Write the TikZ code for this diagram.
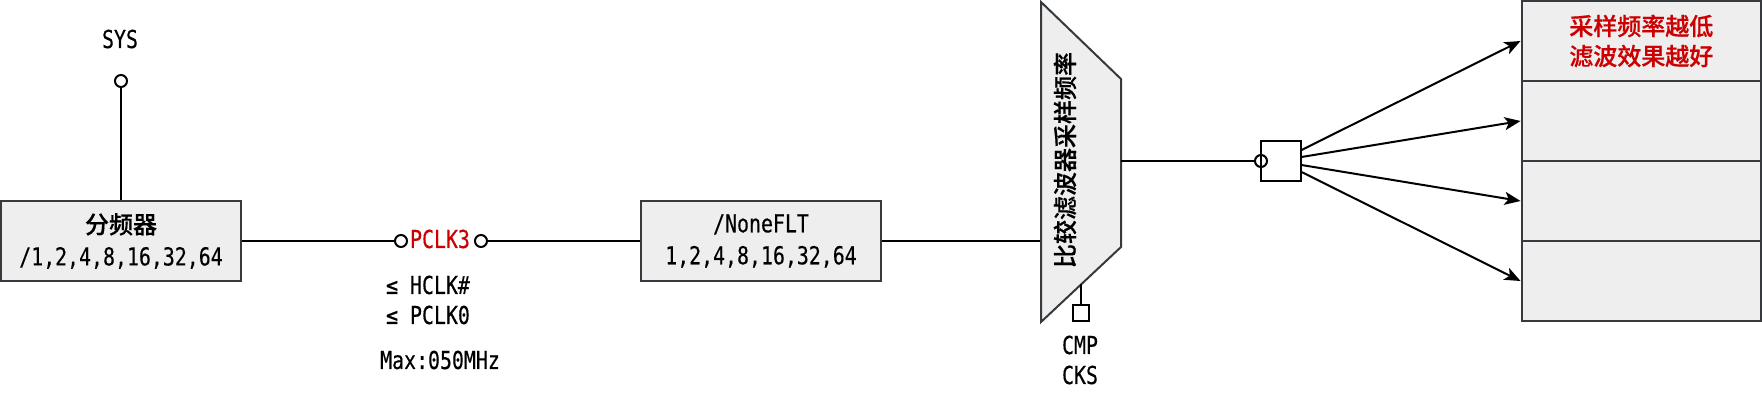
\documentclass[tikz,border=0pt]{standalone}
\usepackage{fontspec}
\usetikzlibrary{arrows.meta}
\newfontfamily\monof[FakeStretch=0.805,FakeBold=0.35]{DejaVu Sans Mono}
\newfontfamily\cjkf[FakeBold=0.5]{Noto Sans CJK SC Medium}
\newcommand{\mtxt}{\monof\fontsize{24.7}{32}\selectfont}
\newcommand{\ctxt}{\cjkf\fontsize{24}{30}\selectfont}
\definecolor{fillgrey}{HTML}{EEEEEE}
\definecolor{edgegrey}{HTML}{36393D}
\definecolor{redtxt}{HTML}{CC0000}
\tikzset{
  graybox/.style={draw=edgegrey,fill=fillgrey,line width=2pt,inner sep=0pt,minimum width=240pt,minimum height=80pt,align=center,font=\mtxt},
  rowbox/.style={draw=edgegrey,fill=fillgrey,line width=2pt,inner sep=0pt,minimum width=239.5pt,minimum height=80pt,align=center},
  pin/.style={circle,draw=black,fill=white,line width=2pt,inner sep=0pt,minimum size=12pt},
  label/.style={inner sep=0pt,align=center,font=\mtxt},
  wire/.style={draw=black,line width=2pt},
  arrowwire/.style={wire,-{Stealth[length=16pt,width=13pt,inset=4pt]}},
}
\begin{document}
\begin{tikzpicture}[x=1pt,y=-1pt]
\useasboundingbox (0,0) rectangle (1762,402);
\coordinate (tA) at (1041,2);
\coordinate (tB) at (1121,79);
\coordinate (tC) at (1121,247);
\coordinate (tD) at (1041,322);
\coordinate (tIn) at (1041,241);
\coordinate (tOut) at (1121,161);
\coordinate (tStem) at (1081,284);
\node[label] (sys) at (120,39) {SYS};
\node[pin] (syspin) at (121,81) {};
\node[graybox] (div) at (121,241) {{\ctxt 分频器}\\/1,2,4,8,16,32,64};
\node[pin] (pa) at (401,241) {};
\node[pin] (pb) at (481,241) {};
\node[label,text=redtxt] (pclk) at (440,239) {PCLK3};
\node[label] (hclk) at (428,285) {≤ HCLK\#};
\node[label] (pclko) at (428,315) {≤ PCLK0};
\node[label] (maxf) at (440,360) {Max:050MHz};
\node[graybox] (flt) at (761,241) {/NoneFLT\\1,2,4,8,16,32,64};
\draw[wire] (syspin) -- (div);
\draw[wire] (div) -- (pa);
\draw[wire] (pb) -- (flt);
\draw[wire] (flt) -- (tIn);
\draw[draw=edgegrey,fill=fillgrey,line width=2pt,line join=miter] (tA) -- (tB) -- (tC) -- (tD) -- cycle;
\node[inner sep=0pt,rotate=90,font=\ctxt] (trap) at (1065,160) {比较滤波器采样频率};
\node[draw=black,fill=white,line width=2pt,inner sep=0pt,minimum size=16pt] (cks) at (1081,313) {};
\draw[wire] (tStem) -- (cks);
\node[label] (cmp) at (1080,345) {CMP};
\node[label] (cksl) at (1080,375) {CKS};
\node[draw=black,fill=white,line width=2pt,inner sep=0pt,minimum width=40pt,minimum height=40pt] (sw) at (1281,161) {};
\node[circle,draw=black,line width=2pt,inner sep=0pt,minimum size=12pt] (swpin) at (1261,161) {};
\draw[wire] (tOut) -- (swpin);
\node[rowbox,font=\ctxt,text=redtxt] (r1) at (1641.3,41) {采样频率越低\\滤波效果越好};
\node[rowbox] (r2) at (1641.3,121) {};
\node[rowbox] (r3) at (1641.3,201) {};
\node[rowbox] (r4) at (1641.3,281) {};
\coordinate (s1) at (1301.5,150);
\coordinate (s2) at (1301.5,157);
\coordinate (s3) at (1301.5,165);
\coordinate (s4) at (1301.5,172);
\draw[arrowwire] (s1) -- (r1.west);
\draw[arrowwire] (s2) -- (r2.west);
\draw[arrowwire] (s3) -- (r3.west);
\draw[arrowwire] (s4) -- (r4.west);
\end{tikzpicture}
\end{document}
